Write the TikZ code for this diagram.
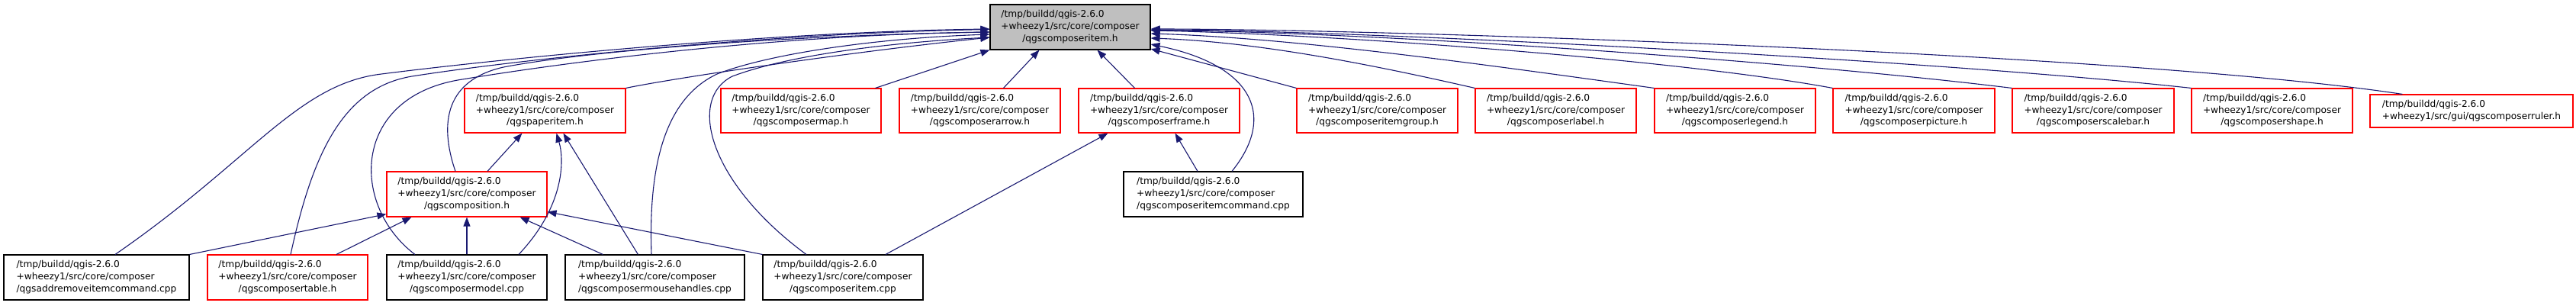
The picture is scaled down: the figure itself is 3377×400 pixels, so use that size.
\documentclass[tikz,border=0pt]{standalone}
\usepackage{fontspec}
\setmainfont{DejaVu Sans}
\usetikzlibrary{arrows.meta,calc}
\definecolor{edgeblue}{HTML}{191970}
\definecolor{boxgray}{HTML}{BFBFBF}
\newcommand\lblthree[3]{\begin{tabular}{@{}l@{}}#1\\#2\\\multicolumn{1}{@{}c@{}}{#3}\end{tabular}}
\newcommand\lbltwo[2]{\begin{tabular}{@{}l@{}}#1\\#2\end{tabular}}
\begin{document}
\begin{tikzpicture}[x=1pt,y=-1pt,
  filebox/.style={draw=black,line width=1.1pt,rectangle,inner sep=0pt,minimum height=59pt,
     font=\fontsize{12.2}{15.8}\selectfont},
  redbox/.style={filebox,draw=red},
  topbox/.style={filebox,fill=boxgray},
  dep/.style={draw=edgeblue,line width=1.1pt,-{Triangle[length=12pt,width=9pt]}}
]
\useasboundingbox (0,0) rectangle (3377,400);
% top
\node[topbox,minimum width=210pt] (item) at (1403,35.5) {\lblthree{/tmp/buildd/qgis-2.6.0}{+wheezy1/src/core/composer}{/qgscomposeritem.h}};
% row 1
\node[redbox,minimum width=211pt,minimum height=58pt] (paperitem) at (714.5,145) {\lblthree{/tmp/buildd/qgis-2.6.0}{+wheezy1/src/core/composer}{/qgspaperitem.h}};
\node[redbox,minimum width=210pt,minimum height=58pt] (map) at (1050,145) {\lblthree{/tmp/buildd/qgis-2.6.0}{+wheezy1/src/core/composer}{/qgscomposermap.h}};
\node[redbox,minimum width=211pt,minimum height=58pt] (arrow) at (1284.5,145) {\lblthree{/tmp/buildd/qgis-2.6.0}{+wheezy1/src/core/composer}{/qgscomposerarrow.h}};
\node[redbox,minimum width=211pt,minimum height=58pt] (frame) at (1519.5,145) {\lblthree{/tmp/buildd/qgis-2.6.0}{+wheezy1/src/core/composer}{/qgscomposerframe.h}};
\node[redbox,minimum width=211pt,minimum height=58pt] (itemgroup) at (1805.5,145) {\lblthree{/tmp/buildd/qgis-2.6.0}{+wheezy1/src/core/composer}{/qgscomposeritemgroup.h}};
\node[redbox,minimum width=211pt,minimum height=58pt] (label) at (2039.5,145) {\lblthree{/tmp/buildd/qgis-2.6.0}{+wheezy1/src/core/composer}{/qgscomposerlabel.h}};
\node[redbox,minimum width=211pt,minimum height=58pt] (legend) at (2274.5,145) {\lblthree{/tmp/buildd/qgis-2.6.0}{+wheezy1/src/core/composer}{/qgscomposerlegend.h}};
\node[redbox,minimum width=212pt,minimum height=58pt] (picture) at (2509,145) {\lblthree{/tmp/buildd/qgis-2.6.0}{+wheezy1/src/core/composer}{/qgscomposerpicture.h}};
\node[redbox,minimum width=212pt,minimum height=58pt] (scalebar) at (2744,145) {\lblthree{/tmp/buildd/qgis-2.6.0}{+wheezy1/src/core/composer}{/qgscomposerscalebar.h}};
\node[redbox,minimum width=211pt,minimum height=58pt] (shape) at (2978.5,145) {\lblthree{/tmp/buildd/qgis-2.6.0}{+wheezy1/src/core/composer}{/qgscomposershape.h}};
\node[redbox,minimum width=266pt,minimum height=43pt] (ruler) at (3240,145.5) {\lbltwo{/tmp/buildd/qgis-2.6.0}{+wheezy1/src/gui/qgscomposerruler.h}};
% row 2
\node[redbox,minimum width=210pt] (composition) at (612,254.5) {\lblthree{/tmp/buildd/qgis-2.6.0}{+wheezy1/src/core/composer}{/qgscomposition.h}};
\node[filebox,minimum width=235pt] (itemcommand) at (1590.5,254.5) {\lblthree{/tmp/buildd/qgis-2.6.0}{+wheezy1/src/core/composer}{/qgscomposeritemcommand.cpp}};
% row 3
\node[filebox,minimum width=243pt] (addremove) at (126.5,363.5) {\lblthree{/tmp/buildd/qgis-2.6.0}{+wheezy1/src/core/composer}{/qgsaddremoveitemcommand.cpp}};
\node[redbox,minimum width=210pt] (table) at (377,363.5) {\lblthree{/tmp/buildd/qgis-2.6.0}{+wheezy1/src/core/composer}{/qgscomposertable.h}};
\node[filebox,minimum width=210pt] (model) at (612,363.5) {\lblthree{/tmp/buildd/qgis-2.6.0}{+wheezy1/src/core/composer}{/qgscomposermodel.cpp}};
\node[filebox,minimum width=235pt] (mousehandles) at (858.5,363.5) {\lblthree{/tmp/buildd/qgis-2.6.0}{+wheezy1/src/core/composer}{/qgscomposermousehandles.cpp}};
\node[filebox,minimum width=210pt] (itemcpp) at (1105,363.5) {\lblthree{/tmp/buildd/qgis-2.6.0}{+wheezy1/src/core/composer}{/qgscomposeritem.cpp}};

% edges to item (left side)
\draw[dep] ($(addremove.north)+(24.5,0)$) .. controls (330,210) and (390,110) .. (500,97) .. controls (650,78) and (1000,42) .. ($(item.west)+(0,2.5)$);
\draw[dep] ($(table.north)+(4,0)$) .. controls (410,200) and (450,115) .. (540,100) .. controls (680,78) and (1000,44) .. ($(item.west)+(0,3)$);
\draw[dep] ($(model.north)+(-68,0)$) .. controls (460,270) and (460,130) .. (600,105) .. controls (720,85) and (1000,46) .. ($(item.west)+(0,6.5)$);
\draw[dep] ($(composition.north)+(-15,0)$) .. controls (575,160) and (585,105) .. (660,88) .. controls (780,65) and (1050,46) .. ($(item.west)+(0,6.5)$);
\draw[dep] ($(mousehandles.north)+(-4.5,0)$) .. controls (850,220) and (870,130) .. (940,97) .. controls (1010,70) and (1150,50) .. ($(item.west)+(0,9.5)$);
\draw[dep] ($(itemcpp.north)+(-48,0)$) .. controls (930,240) and (900,130) .. (960,100) .. controls (1040,70) and (1180,55) .. ($(item.west)+(0,13.5)$);
\draw[dep] (paperitem.north east) .. controls (880,103) and (1100,70) .. ($(item.west)+(0,13.5)$);
\draw[dep] ($(map.north east)+(-8,0)$) -- (item.south west);
\draw[dep] ($(arrow.north west)+(137,0)$) -- ($(item.south west)+(65,0)$);
\draw[dep] ($(frame.north west)+(74,0)$) -- ($(item.south west)+(141,0)$);
% edges to item (right side)
\draw[dep] (itemgroup.north west) -- ($(item.east)+(0,28.5)$);
\draw[dep] ($(itemcommand.north)+(24.5,0)$) .. controls (1675,150) and (1640,85) .. ($(item.east)+(0,22.5)$);
\draw[dep] (label.north west) .. controls (1800,85) and (1650,55) .. ($(item.east)+(0,14.5)$);
\draw[dep] (legend.north west) .. controls (1950,85) and (1700,50) .. ($(item.east)+(0,8.5)$);
\draw[dep] (picture.north west) .. controls (2200,78) and (1750,45) .. ($(item.east)+(0,4.5)$);
\draw[dep] (scalebar.north west) .. controls (2350,80) and (1800,42) .. ($(item.east)+(0,4)$);
\draw[dep] (shape.north west) .. controls (2550,80) and (1800,40) .. ($(item.east)+(0,3.5)$);
\draw[dep] ($(ruler.north west)+(43,0)$) .. controls (2800,70) and (1800,38) .. ($(item.east)+(0,2.5)$);
% edges to composition
\draw[dep] (addremove.north east) -- ($(composition.south west)+(0,-4)$);
\draw[dep] ($(table.north)+(64,0)$) -- ($(composition.south west)+(33,0)$);
\draw[dep] (model.north) -- (composition.south);
\draw[dep] ($(mousehandles.north west)+(50,0)$) -- ($(composition.south east)+(-36,0)$);
\draw[dep] (itemcpp.north west) -- ($(composition.south east)+(0,-7)$);
% edges to paperitem
\draw[dep] ($(composition.north)+(27,0)$) -- ($(paperitem.south west)+(76,0)$);
\draw[dep] ($(model.north)+(68,0)$) .. controls (740,270) and (740,210) .. ($(paperitem.south west)+(121,0)$);
\draw[dep] ($(mousehandles.north west)+(96,0)$) -- ($(paperitem.south west)+(130,0)$);
% edges to frame
\draw[dep] ($(itemcpp.north)+(56,0)$) -- ($(frame.south west)+(39,0)$);
\draw[dep] ($(itemcommand.north)+(-20.5,0)$) -- ($(frame.south west)+(127,0)$);
\end{tikzpicture}
\end{document}
